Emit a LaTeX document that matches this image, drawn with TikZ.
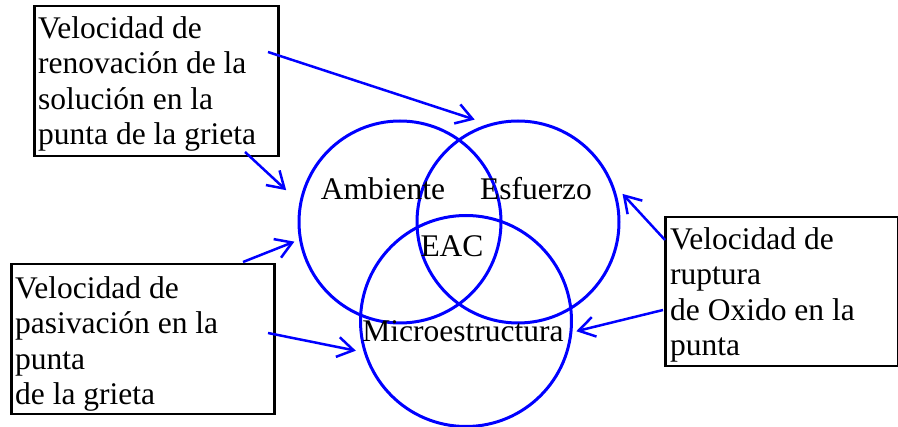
\documentclass[tikz,border=0pt]{standalone}
\usepackage{fontspec}
\setmainfont{Liberation Serif}
\usetikzlibrary{arrows.meta}
\begin{document}
\begin{tikzpicture}[x=1pt,y=-1pt,
  big/.style={font=\fontsize{31.5}{35.5}\selectfont},
  ring/.style={circle, draw=blue, line width=3pt, inner sep=0pt},
  label/.style={big, anchor=base, inner sep=0pt},
  framebox/.style={draw=black, line width=2.5pt, inner sep=0pt, anchor=north west},
  boxtext/.style={big, anchor=north west, inner sep=0pt, align=left},
  conn/.style={draw=blue, line width=2.5pt,
    -{Straight Barb[length=16pt,width=20pt]}}]
\useasboundingbox (0,0) rectangle (898,427);

% the three overlapping circles
\node[ring, minimum size=202pt] (amb) at (400,222) {};
\node[ring, minimum size=202pt] (esf) at (518,222) {};
\node[ring, minimum size=211pt] (mic) at (466,321) {};

\node[label] (lamb) at (383,200) {Ambiente};
\node[label] (lesf) at (536,200) {Esfuerzo};
\node[label] (leac) at (452,257) {EAC};
\node[label] (lmic) at (463,342) {Microestructura};

% the three boxes
\node[framebox, minimum width=244pt, minimum height=150pt] (b1) at (33,5) {};
\node[framebox, minimum width=263pt, minimum height=150pt] (b2) at (10,263) {};
\node[framebox, minimum width=233pt, minimum height=149pt] (b3) at (664,216) {};

\node[boxtext] (t1) at (38,16) {Velocidad de\\renovación de la\\solución en la\\punta de la grieta};
\node[boxtext] (t2) at (15,276) {Velocidad de\\pasivación en la\\punta\\de la grieta};
\node[boxtext] (t3) at (670,227) {Velocidad de\\ruptura\\de Oxido en la\\punta};

% starting points of the arrows
\coordinate (s1) at (268,52);
\coordinate (s2) at (245,152);
\coordinate (s3) at (243,262);
\coordinate (s4) at (268,333);
\coordinate (s5) at (665,240);
\coordinate (s6) at (663,310);

\draw[conn, shorten >=14pt] (s1) -- (esf.107);
\draw[conn, shorten >=18pt] (s2) -- (amb.169);
\draw[conn, shorten >=5pt] (s3) -- (amb.190);
\draw[conn, shorten >=8pt] (s4) -- (mic.197);
\draw[conn, shorten >=14pt] (s5) -- (esf.22);
\draw[conn, shorten >=4pt] (s6) -- (mic.-6);
\end{tikzpicture}
\end{document}
